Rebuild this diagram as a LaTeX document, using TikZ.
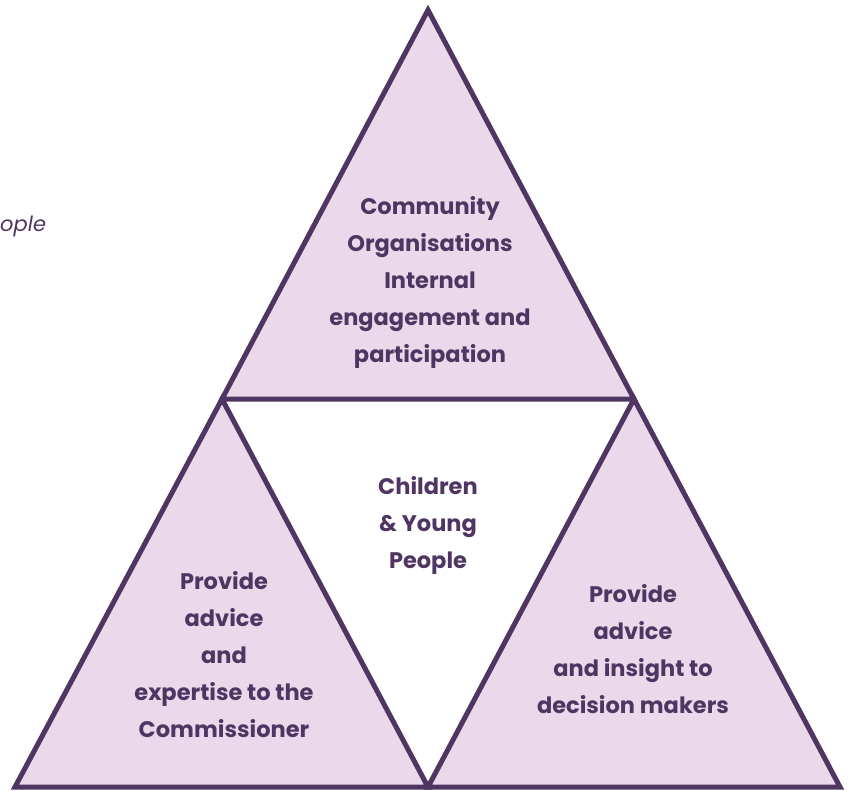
\documentclass[tikz,border=0pt]{standalone}
\usepackage{fontspec}
\setmainfont{Poppins}
\definecolor{plum}{HTML}{4F3562}
\definecolor{lilac}{HTML}{EAD9EA}
\begin{document}
\begin{tikzpicture}[x=1pt,y=-1pt,
  tri/.style={draw=plum,fill=lilac,line width=5pt,line join=miter},
  lbl/.style={text=plum,align=center,font=\fontsize{22.5}{37}\selectfont\bfseries,inner sep=0pt}]
\useasboundingbox (0,0) rectangle (848,790);
\draw[tri] (428,10) -- (634,399) -- (222,399) -- cycle;
\draw[tri] (222,399) -- (428,787) -- (15,787) -- cycle;
\draw[tri] (634,399) -- (840,787) -- (428,787) -- cycle;
\node[lbl] (top) at (430,282) {Community\\Organisations\\Internal\\engagement and\\participation};
\node[lbl] (mid) at (428,525) {Children\\\& Young\\People};
\node[lbl] (left) at (224,655) {Provide\\advice\\and\\expertise to the\\Commissioner};
\node[lbl] (right) at (633,649) {Provide\\advice\\and insight to\\decision makers};
\node[text=plum,font=\fontsize{21}{24}\selectfont\itshape,anchor=west,inner sep=0pt] (cut) at (0,226) {ople};
\end{tikzpicture}
\end{document}
